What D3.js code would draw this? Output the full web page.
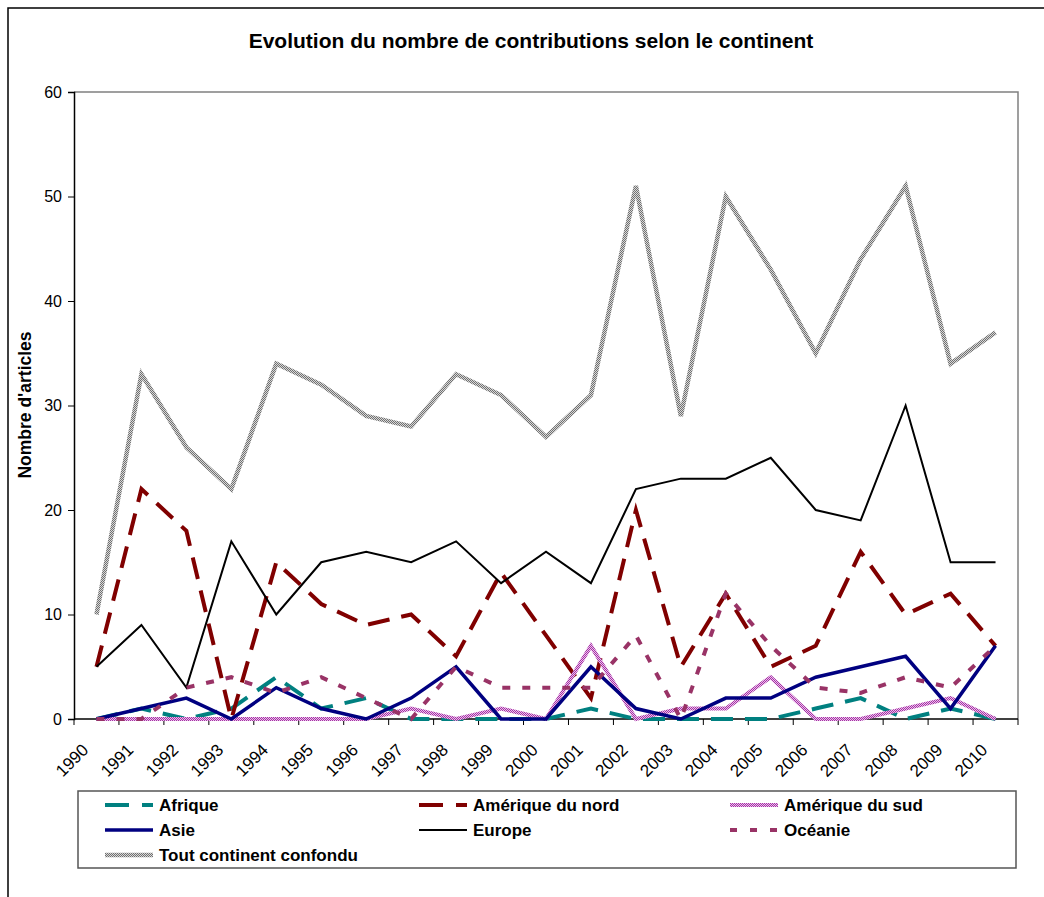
<!DOCTYPE html>
<html>
<head>
<meta charset="utf-8">
<script src="https://cdn.jsdelivr.net/npm/d3@7"></script>
<style>
body{margin:0;background:#fff}
text{font-family:"Liberation Sans",Arial,sans-serif}
</style>
</head>
<body>
<div id="chart"></div>
<script>
var years = ["1990","1991","1992","1993","1994","1995","1996","1997","1998","1999","2000","2001","2002","2003","2004","2005","2006","2007","2008","2009","2010"]
var afrique = [0,1,0,1,4,1,2,0,0,0,0,1,0,0,0,0,1,2,0,1,0]
var ameriqueNord = [5,22,18,0,15,11,9,10,6,14,8,2,20,5,12,5,7,16,10,12,7]
var ameriqueSud = [0,0,0,0,0,0,0,1,0,1,0,7,0,1,1,4,0,0,1,2,0]
var asie = [0,1,2,0,3,1,0,2,5,0,0,5,1,0,2,2,4,5,6,1,7]
var europe = [5,9,3,17,10,15,16,15,17,13,16,13,22,23,23,25,20,19,30,15,15]
var oceanie = [0,0,3,4,2.5,4,2,0,5,3,3,3,8,0,12,7,3,2.5,4,3,7]
var toutContinent = [10,33,26,22,34,32,29,28,33,31,27,31,51,29,50,43,35,44,51,34,37]
var yTicks = [0,10,20,30,40,50,60]

var series = [
    {name:"Afrique", values:afrique, stroke:"#008080", width:4, dash:"22,12"},
    {name:"Amérique du nord", values:ameriqueNord, stroke:"#800000", width:4, dash:"22,12"},
    {name:"Amérique du sud", values:ameriqueSud, stroke:"url(#hatchPink)", width:4, dash:null},
    {name:"Asie", values:asie, stroke:"#000080", width:3.5, dash:null},
    {name:"Europe", values:europe, stroke:"#000000", width:2, dash:null},
    {name:"Océanie", values:oceanie, stroke:"#993366", width:4, dash:"8,12"},
    {name:"Tout continent confondu", values:toutContinent, stroke:"url(#hatchGray)", width:4.5, dash:null}
]

var width = 1044, height = 897
var plotLeft = 74, plotRight = 1018, plotTop = 92, plotBottom = 719

var svg = d3.select("#chart").append("svg").attr("width",width).attr("height",height)

// checker patterns for the hatched lines
var defs = svg.append("defs")
function checker(id,c1,c2){
    var p = defs.append("pattern").attr("id",id).attr("patternUnits","userSpaceOnUse")
        .attr("width",2).attr("height",2)
    p.append("rect").attr("width",2).attr("height",2).attr("fill",c2)
    p.append("rect").attr("width",1).attr("height",1).attr("fill",c1)
    p.append("rect").attr("x",1).attr("y",1).attr("width",1).attr("height",1).attr("fill",c1)
}
checker("hatchPink","#a03aa0","#f0b8f0")
checker("hatchGray","#707070","#d8d8d8")

svg.append("rect").attr("width",width).attr("height",height).attr("fill","#fff")
// outer chart frame
svg.append("path").attr("d","M8,"+height+"V8H"+width).attr("fill","none").attr("stroke","#000").attr("stroke-width",1.5)

var xScale = d3.scaleBand().domain(years).range([plotLeft,plotRight]).padding(0)
var yScale = d3.scaleLinear().domain([0,60]).range([plotBottom,plotTop])
var bw = xScale.bandwidth()

// plot area border
svg.append("path").attr("d","M"+plotLeft+","+plotTop+"H"+plotRight+"V"+plotBottom)
    .attr("fill","none").attr("stroke","#808080").attr("stroke-width",1.5)

var yAxis = d3.axisLeft(yScale).tickValues(yTicks).tickSize(6).tickPadding(6)
svg.append("g").attr("transform","translate("+plotLeft+",0)").call(yAxis)
    .call(function(g){
        g.select(".domain").attr("stroke","#000").attr("stroke-width",1.5)
        g.selectAll("line").attr("stroke","#000")
        g.selectAll("text").attr("font-size",16).attr("fill","#000").style("font-family","Liberation Sans, Arial, sans-serif")
    })

// x axis line + ticks at category boundaries
svg.append("line").attr("x1",plotLeft).attr("x2",plotRight).attr("y1",plotBottom).attr("y2",plotBottom)
    .attr("stroke","#000").attr("stroke-width",1.5)
var bounds = years.map(function(d){return xScale(d)}).concat([xScale(years[years.length-1])+bw])
svg.selectAll(".xtick").data(bounds).enter().append("line")
    .attr("class","xtick")
    .attr("x1",function(d){return d}).attr("x2",function(d){return d})
    .attr("y1",plotBottom).attr("y2",plotBottom+6)
    .attr("stroke","#000")

svg.selectAll(".xlabel").data(years).enter().append("text")
    .attr("class","xlabel")
    .text(function(d){return d})
    .attr("text-anchor","end")
    .attr("font-size",17)
    .attr("transform",function(d){
        return "translate("+(xScale(d)+bw/2-7)+",751) rotate(-45)"
    })

var line = d3.line()
    .x(function(d,i){return xScale(years[i])+bw/2})
    .y(function(d){return yScale(d)})

svg.selectAll(".serie").data(series).enter().append("path")
    .attr("class","serie")
    .attr("d",function(d){return line(d.values)})
    .attr("fill","none")
    .attr("stroke",function(d){return d.stroke})
    .attr("stroke-width",function(d){return d.width})
    .attr("stroke-dasharray",function(d){return d.dash})
    .attr("stroke-linejoin","miter")

svg.append("text").text("Evolution du nombre de contributions selon le continent")
    .attr("x",531).attr("y",48).attr("text-anchor","middle")
    .attr("font-size",21).attr("font-weight","bold")

svg.append("text").text("Nombre d'articles")
    .attr("transform","translate(31,405) rotate(-90)")
    .attr("text-anchor","middle").attr("font-size",17.5).attr("font-weight","bold")

// legend
svg.append("rect").attr("x",78).attr("y",791).attr("width",938).attr("height",77)
    .attr("fill","#fff").attr("stroke","#555").attr("stroke-width",1.5)
var colX = [105,419,730]
var rowY = [805,830,855]
var leg = svg.selectAll(".legend").data(series).enter().append("g")
    .attr("class","legend")
    .attr("transform",function(d,i){
        return "translate("+colX[i%3]+","+rowY[Math.floor(i/3)]+")"
    })
leg.append("line").attr("x1",0).attr("x2",48).attr("y1",0).attr("y2",0)
    .attr("stroke",function(d){return d.stroke})
    .attr("stroke-width",function(d){return d.width})
    .attr("stroke-dasharray",function(d){
        if(d.name=="Océanie") return "7,13"
        if(d.dash) return "24,13"
        return null
    })
leg.append("text").text(function(d){return d.name})
    .attr("x",54).attr("y",6)
    .attr("font-size",17).attr("font-weight","bold")
</script>
</body>
</html>
